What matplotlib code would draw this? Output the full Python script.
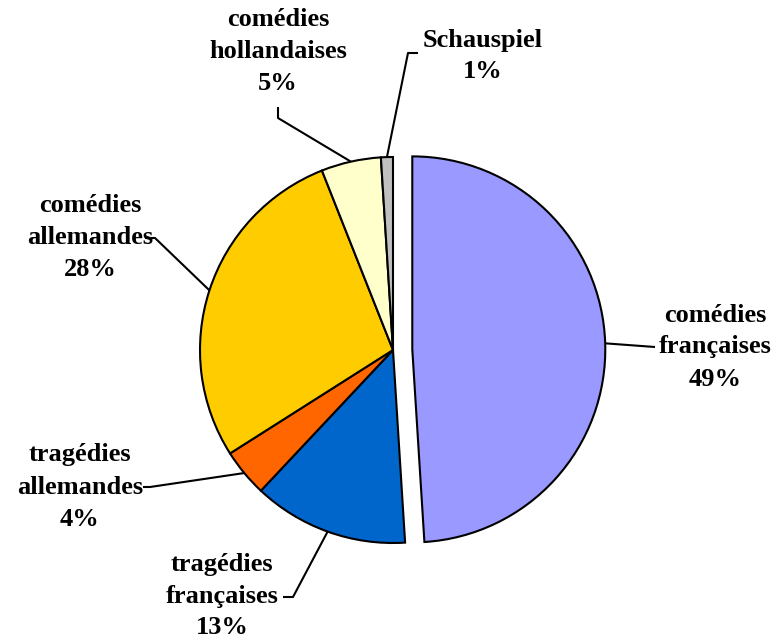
import numpy as np
from matplotlib import pyplot as plt

# data (percent shares, drawn clockwise from 12 o'clock)
labels = ['comédies\nfrançaises', 'tragédies\nfrançaises', 'tragédies\nallemandes',
          'comédies\nallemandes', 'comédies\nhollandaises', 'Schauspiel']
shares = [49, 13, 4, 28, 5, 1]
pct_text = ['49%', '13%', '4%', '28%', '5%', '1%']
colors = ['#9999FF', '#0066CC', '#FF6600', '#FFCC00', '#FFFFCC', '#C0C0C0']
explode_frac = [0.1, 0, 0, 0, 0, 0]

W, H = 777, 642

def flip(y):
    # pixel rows -> data y (axis runs bottom-up)
    return H - y

# label placement in pixel coords: text centre, elbow, end of short stub
text_pos = [(715, 347), (222, 596), (80, 487), (90, 237), (278, 52), (483, 56)]
elbow = [(655, 347), (293, 597), (150, 487), (155, 238), (278, 118), (408, 53)]
stub = [(655, 347), (283, 597), (143, 487), (145, 238), (278, 107), (418, 53)]

fig = plt.figure(figsize=(W / 100, H / 100), dpi=100)
ax = fig.add_axes([0, 0, 1, 1])

cx, cy, r = 393, flip(350), 193
# pie() takes explode in data units here, so scale by the radius
wedges, _ = ax.pie(shares, colors=colors, startangle=90, counterclock=False,
                   explode=[e * r for e in explode_frac], center=(cx, cy),
                   radius=r, frame=True,
                   wedgeprops=dict(edgecolor='black', linewidth=1.5))
ax.set_xlim(0, W)
ax.set_ylim(0, H)
ax.set_aspect('equal')
ax.axis('off')

font = dict(family=['Liberation Serif', 'DejaVu Serif'], weight='bold', size=19)

for i, w in enumerate(wedges):
    mid = np.deg2rad((w.theta1 + w.theta2) / 2)
    wx, wy = w.center
    px = wx + r * np.cos(mid)
    py = wy + r * np.sin(mid)
    ex, ey = elbow[i]
    sx, sy = stub[i]
    ax.plot([px, ex, sx], [py, flip(ey), flip(sy)], color='black', lw=1.5,
            solid_capstyle='butt', zorder=1)
    tx, ty = text_pos[i]
    ax.text(tx, flip(ty), labels[i] + '\n' + pct_text[i], ha='center', va='center',
            linespacing=1.5, **font)

plt.savefig('out.png', dpi=100)
plt.close()
